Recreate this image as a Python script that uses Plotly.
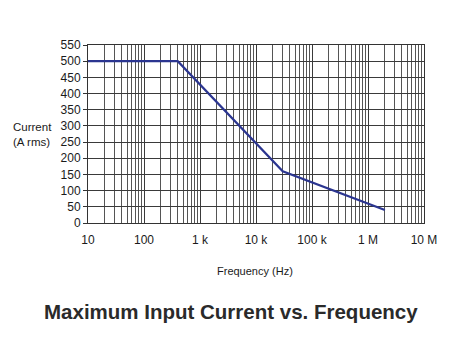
import plotly.graph_objects as go

freq_hz = [10, 400, 30000, 2000000]
current_a = [500, 500, 160, 40]

x_tick_vals = [10, 100, 1000, 10000, 100000, 1000000, 10000000]
x_tick_text = ["10", "100", "1 k", "10 k", "100 k", "1 M", "10 M"]
y_tick_vals = list(range(0, 551, 50))

W, H = 463, 342
L, R, T, B = 88, 39, 45, 119
pw, ph = W - L - R, H - T - B

def px(x):
    return (x - L) / pw

def py(y):
    return (H - B - y) / ph

fig = go.Figure()
fig.add_trace(go.Scatter(x=freq_hz, y=current_a, mode="lines",
                         line=dict(color="#2b3590", width=2.2), showlegend=False))

font = dict(family="Liberation Sans, Arial, sans-serif", color="#1a1a1a", size=12)

fig.update_layout(
    width=W, height=H, margin=dict(l=L, r=R, t=T, b=B),
    paper_bgcolor="white", plot_bgcolor="white",
    font=font,
    xaxis=dict(type="log", range=[1, 7], tickvals=x_tick_vals, ticktext=x_tick_text,
               showgrid=True, gridcolor="#3a3a3a", gridwidth=1,
               minor=dict(dtick="D1", showgrid=True, gridcolor="#555555", gridwidth=0.8),
               showline=True, linecolor="#333333", linewidth=1, mirror=True,
               ticks="", tickfont=dict(size=12), ticklabelstandoff=6, zeroline=False),
    yaxis=dict(range=[0, 550], tickvals=y_tick_vals, showgrid=True, gridcolor="#3a3a3a",
               gridwidth=1, showline=True, linecolor="#333333", linewidth=1, mirror=True,
               ticks="outside", ticklen=4, tickcolor="#333333", tickfont=dict(size=12),
               zeroline=False),
    annotations=[
        dict(text="Current<br>(A rms)", xref="paper", yref="paper", x=px(32), y=py(134),
             showarrow=False, font=dict(size=11.5), align="left", xanchor="center", yanchor="middle"),
        dict(text="Frequency (Hz)", xref="paper", yref="paper", x=px(255), y=py(271),
             showarrow=False, font=dict(size=11), xanchor="center", yanchor="middle"),
        dict(text="<b>Maximum Input Current vs. Frequency</b>", xref="paper", yref="paper",
             x=px(231), y=py(311), showarrow=False,
             font=dict(size=20.5, color="#2a2a2a", family="Liberation Sans, Arial, sans-serif"),
             xanchor="center", yanchor="middle"),
    ],
)

fig.write_html("out.html")
